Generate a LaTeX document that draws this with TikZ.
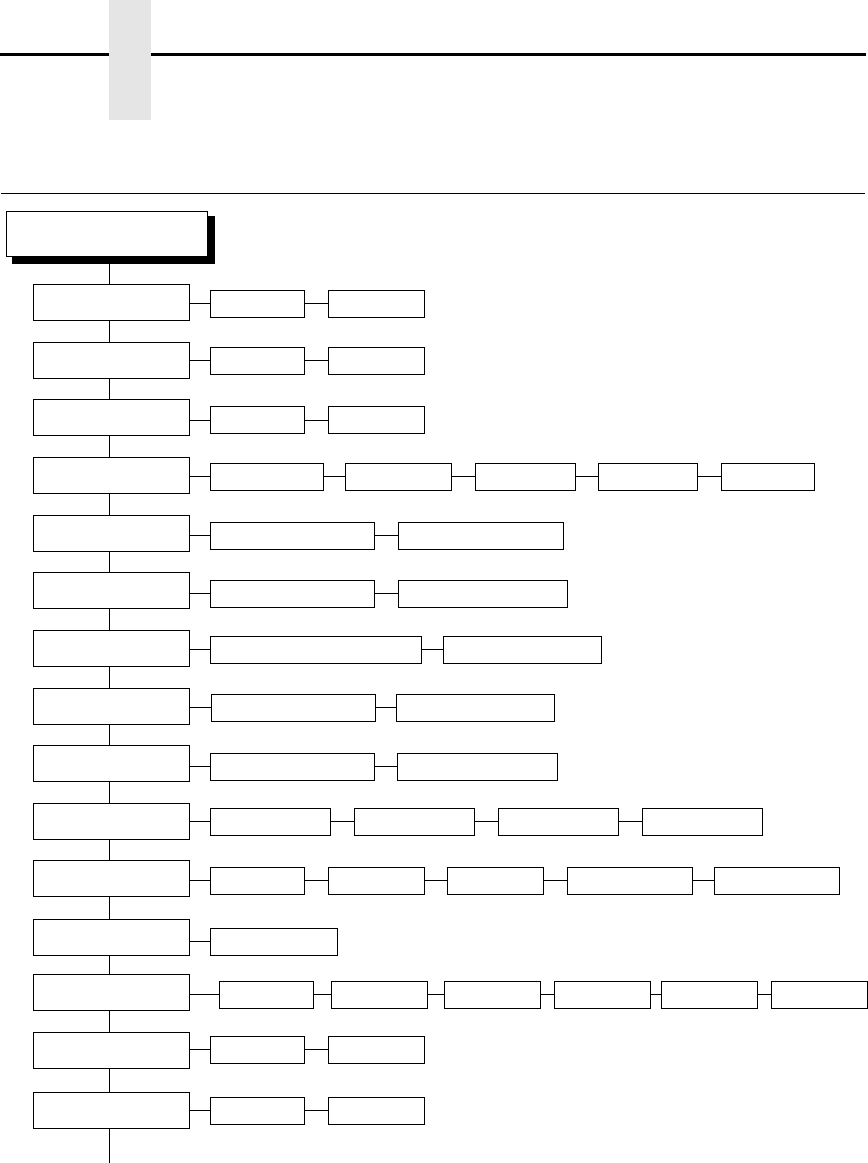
\documentclass[tikz,border=0pt]{standalone}
\usetikzlibrary{calc}
\definecolor{tabgray}{RGB}{229,229,229}
\begin{document}
\begin{tikzpicture}[x=1pt,y=-1pt,
  boxbase/.style={draw=black, line width=1pt, fill=white, inner sep=0pt, outer sep=0pt, anchor=north west},
  mainbox/.style={boxbase, minimum width=156pt, minimum height=36pt},
  subbox/.style={boxbase, minimum height=27pt},
  link/.style={draw=black, line width=1pt}]
\useasboundingbox (0,0) rectangle (868,1163);
% header rules and tab
\draw[line width=2.7pt] (0,54.5) -- (866,54.5);
\fill[tabgray] (109,0) rectangle (151,120);
\draw[line width=1.3pt] (1,193.3) -- (864.7,193.3);
% title box with shadow
\node[boxbase, fill=black, minimum width=202pt, minimum height=47pt] (topshadow) at (12,216) {};
\node[boxbase, minimum width=201pt, minimum height=45pt] (top) at (6.5,211) {};
\coordinate (trunkbot) at (109.5,1163);
% rows
\foreach \r/\mt/\st/\L in {
  1/284.3/290.3/{210.3/304.3,328.3/424.7},
  2/342.3/347.3/{210.3/304.3,328.3/424.7},
  3/399.3/406.8/{210.3/304.3,328.3/424.7},
  4/457.3/463.3/{210.3/323.5,345.4/451.6,475.3/575.8,598.6/697.8,721.5/814.5},
  5/515.3/522.3/{210.3/374.4,398.5/563.5},
  6/572.3/580.3/{210.3/374.4,398.5/567.4},
  7/630.3/636.3/{210.3/421.3,443.3/601.7},
  8/688.3/694.3/{211.6/375.3,396.3/554.7},
  9/745.3/753.3/{210.3/374.4,397.6/557.4},
  10/803.3/808.3/{210.3/330.5,354.6/474.4,498.6/618.3,642.5/762.3},
  11/860.3/867.3/{210.3/304.6,328.3/424.4,447.7/543.8,567.4/692.5,714.4/839.5},
  12/919.3/928.3/{210.3/337.5},
  13/974.3/981.3/{219.5/313.4,331.4/427,444.6/540.2,554.3/650.4,661.3/757.4,771.5/867},
  14/1032.3/1036.3/{210.3/304.3,328.3/424.7},
  15/1092.3/1097.3/{210.3/304.3,328.3/424.7}}{
  \node[mainbox] (m\r) at (33.5,\mt) {};
  \foreach \a/\b [count=\j, remember=\j as \pj (initially 0)] in \L {
    \pgfmathsetmacro{\w}{\b-\a}
    \node[subbox, minimum width=\w pt] (s\r-\j) at (\a,\st) {};
    \ifnum\j=1
      \draw[link] (m\r.east |- s\r-\j.west) -- (s\r-\j.west);
    \else
      \draw[link] (s\r-\pj.east) -- (s\r-\j.west);
    \fi
  }
}
% trunk
\draw[link] (topshadow.south -| trunkbot) -- (m1.north -| trunkbot);
\foreach \i [evaluate=\i as \n using int(\i+1)] in {1,...,14}{
  \draw[link] (m\i.south -| trunkbot) -- (m\n.north -| trunkbot);
}
\draw[link] (m15.south -| trunkbot) -- (trunkbot);
\end{tikzpicture}
\end{document}
